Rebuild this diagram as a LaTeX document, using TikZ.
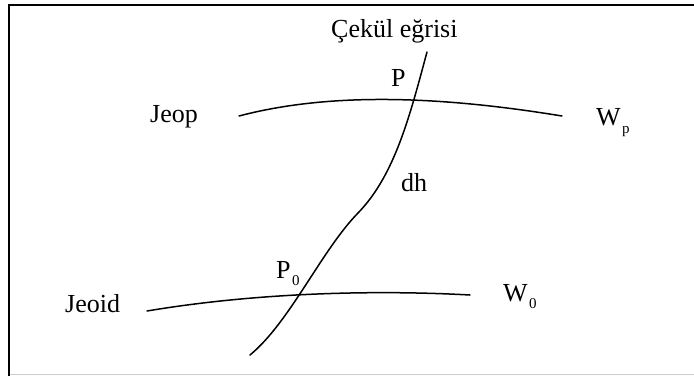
\documentclass[tikz,border=0pt]{standalone}
\usepackage{fontspec}
\setmainfont{Liberation Serif}
\begin{document}
\begin{tikzpicture}[x=1pt,y=-1pt,
  curve/.style={line width=1.5pt,line cap=round},
  lbl/.style={inner sep=0pt,anchor=base west,font=\fontsize{26}{30}\selectfont},
  sublbl/.style={inner sep=0pt,anchor=base west,font=\fontsize{15}{17}\selectfont}]
\useasboundingbox (0,0) rectangle (694,376);
\fill[white] (0,0) rectangle (694,376);
% frame
\draw[line width=2pt] (9,376) -- (9,5) -- (694,5);
\draw[line width=1pt,black!20] (10,374.5) -- (694,374.5);
% curves
\coordinate (ja) at (239,116);
\coordinate (jb) at (562,116);
\coordinate (ga) at (147,311);
\coordinate (gb) at (470,295);
\coordinate (pa) at (427,52);
\coordinate (pm) at (358,213);
\coordinate (pb) at (250,355);
\draw[curve] (ja) .. controls (330,92) and (440,96) .. (jb);
\draw[curve] (ga) .. controls (260,292) and (380,290) .. (gb);
\draw[curve] (pa) .. controls (410,115) and (395,175) .. (pm)
  .. controls (321,251) and (290,322) .. (pb);
% labels
\node[lbl] (cekul) at (331,37) {Çekül eğrisi};
\node[lbl] (P) at (391,86) {P};
\node[lbl] (jeop) at (150,122) {Jeop};
\node[lbl] (Wp) at (596,125) {W};
\node[sublbl] (Wpsub) at (622,133) {p};
\node[lbl] (dh) at (401,191) {dh};
\node[lbl] (P0) at (276,278) {P};
\node[sublbl] (P0sub) at (292,285) {0};
\node[lbl] (jeoid) at (65,312) {Jeoid};
\node[lbl] (W0) at (503,301) {W};
\node[sublbl] (W0sub) at (529,308) {0};
\end{tikzpicture}
\end{document}
